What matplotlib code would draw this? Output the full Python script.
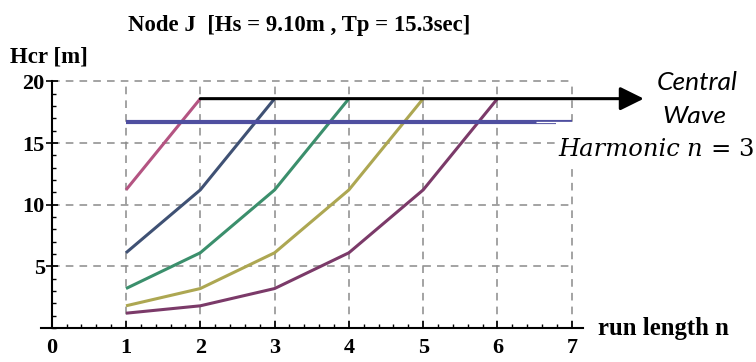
import matplotlib
matplotlib.use("Agg")
import matplotlib.pyplot as plt
from matplotlib.ticker import MultipleLocator

# Critical wave height Hcr [m] versus run length n, one curve per starting group
run_length = [1, 2, 3, 4, 5, 6]
hcr_a = [11.2, 18.6]
hcr_b = [6.1, 11.2, 18.6]
hcr_c = [3.2, 6.1, 11.2, 18.6]
hcr_d = [1.8, 3.2, 6.1, 11.2, 18.6]
hcr_e = [1.2, 1.8, 3.2, 6.1, 11.2, 18.6]
curve_colors = ["#b45482", "#3f5174", "#3b8f6c", "#ada752", "#7b3a69"]

design_level = 16.7      # horizontal reference level
central_level = 18.6     # level of the arrow line
x_ticks = [0, 1, 2, 3, 4, 5, 6, 7]
y_ticks = [5, 10, 15, 20]

W, H = 756, 362
fig = plt.figure(figsize=(W / 100, H / 100), dpi=100)
ax = fig.add_axes([41.3 / W, 34 / H, 541.6 / W, 250.3 / H])
ax.set_xlim(-0.14, 7.15)
ax.set_ylim(0, 20.3)

serif_bold = dict(family="Liberation Serif", weight="bold")

# dashed grid limited to the plotted range
grid_kw = dict(colors="#8a8a8a", linestyles=(0, (5, 4)), linewidth=1.1, zorder=1)
ax.vlines(x_ticks[1:], 0, 20, **grid_kw)
ax.hlines(y_ticks, 0, 7, **grid_kw)

curves = [hcr_a, hcr_b, hcr_c, hcr_d, hcr_e]
for vals, col in zip(curves, curve_colors):
    ax.plot(run_length[:len(vals)], vals, color=col, lw=2.2, zorder=3,
            solid_capstyle="butt")

ax.hlines(design_level, 1, 7, colors="#4f4fa0", lw=3.0, zorder=4)
ax.hlines(design_level, 6.52, 7, colors="white", lw=0.9, zorder=5)

ax.annotate("", xy=(7.97, central_level), xytext=(2, central_level),
            xycoords="data", annotation_clip=False,
            arrowprops=dict(arrowstyle="-|>,head_length=0.85,head_width=0.42",
                            color="black", lw=2.2, shrinkA=0, shrinkB=0,
                            mutation_scale=17),
            zorder=6)

# axes through the origin, Mathematica style
for side in ("top", "right"):
    ax.spines[side].set_visible(False)
ax.spines["left"].set_position(("data", 0))
ax.spines["left"].set_bounds(0, 20)
ax.spines["left"].set_linewidth(1.5)
ax.spines["bottom"].set_linewidth(1.5)

ax.set_xticks(x_ticks)
ax.set_yticks(y_ticks)
ax.xaxis.set_minor_locator(MultipleLocator(0.2))
ax.yaxis.set_minor_locator(MultipleLocator(1))
ax.tick_params(axis="x", which="major", direction="in", length=5, width=1.2, pad=7)
ax.tick_params(axis="x", which="minor", direction="in", length=3, width=1.0)
ax.tick_params(axis="y", which="major", direction="inout", length=8, width=1.2, pad=1)
ax.tick_params(axis="y", which="minor", direction="in", length=3, width=1.0)
for lab in ax.get_xticklabels() + ax.get_yticklabels():
    lab.set_fontfamily("Liberation Serif")
    lab.set_fontweight("bold")
    lab.set_fontsize(16)

fig.text(299 / W, 1 - 25 / H, "Node J  [Hs = 9.10m , Tp = 15.3sec]",
         ha="center", va="center", fontsize=16.4, **serif_bold)
fig.text(10 / W, 1 - 57 / H, "Hcr [m]", ha="left", va="center",
         fontsize=16.5, **serif_bold)
fig.text(598 / W, 1 - 328 / H, "run length n", ha="left", va="center",
         fontsize=17.8, **serif_bold)

# callout label for the arrow
fig.text(657 / W, 1 - 82 / H, "Central", ha="left", va="center",
         fontsize=19, family="Lato", style="italic", zorder=5)
fig.text(662 / W, 1 - 116 / H, "Wave", ha="left", va="center",
         fontsize=19, family="Lato", style="italic", zorder=5)
# white strip behind the second label row
fig.patches.append(plt.Rectangle((556 / W, 1 - 164 / H), 200 / W, 41 / H,
                                 transform=fig.transFigure, facecolor="white",
                                 edgecolor="none", zorder=6))
harm_kw = dict(va="baseline", fontsize=17.5, family="DejaVu Serif", zorder=7)
base_y = 1 - 156 / H
fig.text(558 / W, base_y, "Harmonic", ha="left", style="italic", **harm_kw)
fig.text(754 / W, base_y, r"$n\,=\,3$", ha="right",
         math_fontfamily="dejavuserif", **harm_kw)

fig.savefig("out.png", dpi=100)
